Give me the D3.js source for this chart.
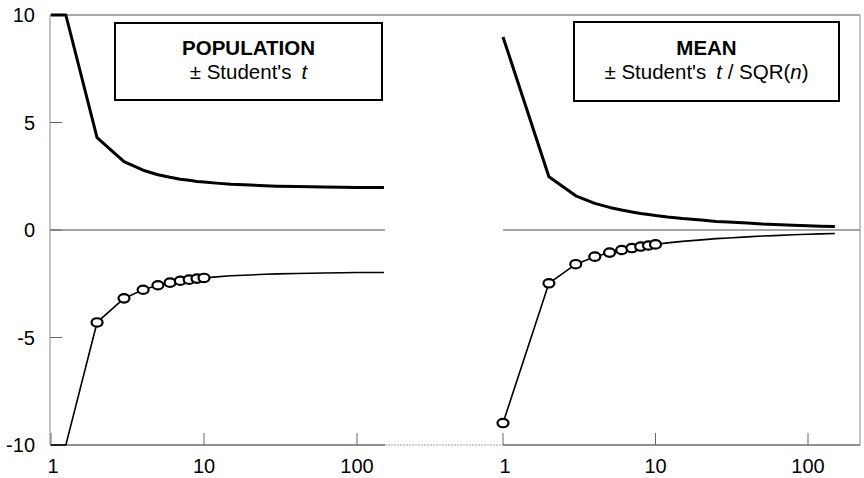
<!DOCTYPE html>
<html>
<head>
<meta charset="utf-8">
<script src="https://cdn.jsdelivr.net/npm/d3@7"></script>
<style>
  html, body { margin: 0; padding: 0; background: #fff; }
  svg { display: block; }
  text { font-family: "Liberation Sans", Arial, sans-serif; fill: #000; }
</style>
</head>
<body>
<svg id="chart" width="864" height="478"></svg>
<script>
// ---- data ----
const degreesOfFreedom = [1, 2, 3, 4, 5, 6, 7, 8, 9, 10, 12, 15, 20, 25, 30, 40, 50, 60, 80, 100, 120, 150];
const populationT = [12.71, 4.30, 3.18, 2.78, 2.57, 2.45, 2.36, 2.31, 2.26, 2.23, 2.18, 2.13, 2.09, 2.06, 2.04, 2.02, 2.01, 2.00, 1.99, 1.98, 1.98, 1.98];
const meanT = [8.98, 2.48, 1.59, 1.24, 1.05, 0.93, 0.84, 0.77, 0.72, 0.67, 0.60, 0.53, 0.46, 0.40, 0.37, 0.32, 0.28, 0.26, 0.22, 0.20, 0.18, 0.16];
const populationMarkerDf = [2, 3, 4, 5, 6, 7, 8, 9, 10];
const meanMarkerDf = [1, 2, 3, 4, 5, 6, 7, 8, 9, 10];
const yTicks = [10, 5, 0, -5, -10];
const xTicks = [1, 10, 100];
const xTickLabels = ["1", "10", "100"];

// ---- layout ----
const svg = d3.select("#chart");
const plotTop = 15, plotBottom = 445, plotLeft = 50, plotRight = 860;
const y = d3.scaleLinear().domain([-10, 10]).range([plotBottom, plotTop]);
const xL = d3.scaleLog().domain([1, 100]).range([51, 357]);
const xR = d3.scaleLog().domain([1, 100]).range([503, 808]);
const leftPanelEnd = 385;

// clip a pixel polyline against the plot's vertical extent, running along the border
function clampPolyline(pts) {
  const out = [];
  const cl = v => Math.max(plotTop, Math.min(plotBottom, v));
  for (let i = 0; i < pts.length; i++) {
    const [px, py] = pts[i];
    out.push([px, cl(py)]);
    if (i < pts.length - 1) {
      const [qx, qy] = pts[i + 1];
      [plotTop, plotBottom].forEach(b => {
        if ((py - b) * (qy - b) < 0) {
          const t = (b - py) / (qy - py);
          out.push([px + t * (qx - px), b]);
        }
      });
    }
  }
  return out;
}
const lineGen = d3.line();

// ---- frame ----
const frame = svg.append("g").attr("stroke", "#555").attr("stroke-width", 1).attr("fill", "none");
frame.append("line").attr("x1", plotLeft).attr("x2", plotRight).attr("y1", plotTop).attr("y2", plotTop);
frame.append("line").attr("x1", plotLeft).attr("x2", leftPanelEnd).attr("y1", plotBottom).attr("y2", plotBottom).attr("stroke", "#222");
frame.append("line").attr("x1", leftPanelEnd).attr("x2", xR(1)).attr("y1", plotBottom).attr("y2", plotBottom).attr("stroke", "#999").attr("stroke-dasharray", "2,1");
frame.append("line").attr("x1", xR(1)).attr("x2", plotRight).attr("y1", plotBottom).attr("y2", plotBottom).attr("stroke", "#222");
frame.append("line").attr("x1", plotLeft).attr("x2", plotLeft).attr("y1", plotTop).attr("y2", plotBottom).attr("stroke", "#888");
frame.append("line").attr("x1", plotRight).attr("x2", plotRight).attr("y1", plotTop).attr("y2", plotBottom).attr("stroke", "#888");

// zero lines
svg.append("line").attr("x1", plotLeft).attr("x2", leftPanelEnd).attr("y1", y(0)).attr("y2", y(0))
  .attr("stroke", "#888").attr("stroke-width", 1.5);
svg.append("line").attr("x1", xR(1)).attr("x2", plotRight).attr("y1", y(0)).attr("y2", y(0))
  .attr("stroke", "#888").attr("stroke-width", 1.5);

// y axis ticks + labels
const yAxis = svg.append("g");
yTicks.forEach(v => {
  yAxis.append("line").attr("x1", plotLeft).attr("x2", plotLeft + 12).attr("y1", y(v)).attr("y2", y(v))
    .attr("stroke", "#666").attr("stroke-width", 1);
  yAxis.append("text").attr("x", 35).attr("y", y(v)).attr("dy", "0.36em")
    .attr("text-anchor", "end").attr("font-size", 20).text(v);
});

// x axis ticks + labels (both panels)
[xL, xR].forEach(xs => {
  xTicks.forEach((v, i) => {
    svg.append("line").attr("x1", xs(v)).attr("x2", xs(v)).attr("y1", plotBottom).attr("y2", plotBottom - 12)
      .attr("stroke", "#666").attr("stroke-width", 1);
    svg.append("text").attr("x", xs(v) + (i === 0 ? 2 : 0)).attr("y", 473)
      .attr("text-anchor", "middle").attr("font-size", 20).text(xTickLabels[i]);
  });
});

// ---- curves ----
function drawPanel(xs, values, markerDf) {
  const upper = clampPolyline(degreesOfFreedom.map((d, i) => [xs(d), y(values[i])]));
  const lower = clampPolyline(degreesOfFreedom.map((d, i) => [xs(d), y(-values[i])]));
  svg.append("path").attr("d", lineGen(upper)).attr("fill", "none")
    .attr("stroke", "#000").attr("stroke-width", 3).attr("stroke-linejoin", "round");
  svg.append("path").attr("d", lineGen(lower)).attr("fill", "none")
    .attr("stroke", "#000").attr("stroke-width", 1.6).attr("stroke-linejoin", "round");
  svg.append("g").selectAll("ellipse")
    .data(markerDf)
    .join("ellipse")
    .attr("cx", d => xs(d))
    .attr("cy", d => y(-values[degreesOfFreedom.indexOf(d)]))
    .attr("rx", 5.5).attr("ry", 4.2)
    .attr("fill", "#fff").attr("stroke", "#000").attr("stroke-width", 2.2);
}
drawPanel(xL, populationT, populationMarkerDf);
drawPanel(xR, meanT, meanMarkerDf);

// ---- label boxes ----
function box(x0, y0, x1, y1, title, lineBuilder) {
  svg.append("rect").attr("x", x0).attr("y", y0).attr("width", x1 - x0).attr("height", y1 - y0)
    .attr("fill", "#fff").attr("stroke", "#000").attr("stroke-width", 2);
  const cx = (x0 + x1) / 2;
  svg.append("text").attr("x", cx).attr("y", 55).attr("text-anchor", "middle")
    .attr("font-size", 20.5).attr("font-weight", "bold").text(title);
  const t2 = svg.append("text").attr("x", cx).attr("y", 79).attr("text-anchor", "middle").attr("font-size", 20.5);
  lineBuilder(t2);
}
box(115, 23, 382, 100, "POPULATION", t => {
  t.append("tspan").text("\u00B1 Student's");
  t.append("tspan").attr("dx", 10).attr("font-style", "italic").text("t");
});
box(574, 22, 839, 101, "MEAN", t => {
  t.append("tspan").text("\u00B1 Student's");
  t.append("tspan").attr("dx", 10).attr("font-style", "italic").text("t");
  t.append("tspan").text(" / SQR(");
  t.append("tspan").attr("font-style", "italic").text("n");
  t.append("tspan").text(")");
});
</script>
</body>
</html>
